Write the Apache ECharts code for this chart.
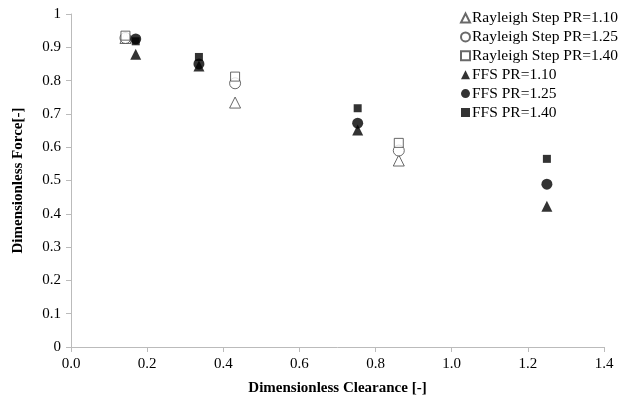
<!DOCTYPE html>
<html><head><meta charset="utf-8">
<script src="https://cdn.jsdelivr.net/npm/echarts@6/dist/echarts.min.js"></script>
<style>html,body{margin:0;padding:0;background:#fff}#c{width:623px;height:406px}</style>
</head><body><div id="c"></div>
<script>
const seriesNames = ["Rayleigh Step PR=1.10","Rayleigh Step PR=1.25","Rayleigh Step PR=1.40","FFS PR=1.10","FFS PR=1.25","FFS PR=1.40"];
const rayleighX = [0.143, 0.431, 0.861];
const rsPR110 = [0.928, 0.734, 0.560];
const rsPR125 = [0.928, 0.792, 0.590];
const rsPR140 = [0.935, 0.812, 0.613];
const ffsX = [0.17, 0.336, 0.753, 1.25];
const ffsPR110 = [0.879, 0.844, 0.652, 0.423];
const ffsPR125 = [0.925, 0.850, 0.672, 0.489];
const ffsPR140 = [0.918, 0.871, 0.717, 0.565];

const font = "'Liberation Serif','Times New Roman',serif";
function pts(xs, ys){ return xs.map((x,i)=>[x, ys[i]]); }
const hollow = {color:'#fff', borderColor:'#444', borderWidth:1};
const solid = {color:'#000'};
const chart = echarts.init(document.getElementById('c'));
chart.setOption({
  animation:false,
  grid:{left:71, right:19, top:14, bottom:59},
  legend:{
    orient:'vertical', left:455, top:5, itemWidth:9, itemHeight:9, itemGap:2.9,
    textStyle:{fontFamily:font, fontSize:15.5, color:'#000', padding:[0,0,0,-3]},
    data:seriesNames
  },
  xAxis:{
    type:'value', min:0, max:1.4, interval:0.2,
    name:'Dimensionless Clearance [-]', nameLocation:'middle', nameGap:34,
    nameTextStyle:{fontFamily:font, fontSize:15, fontWeight:'bold', color:'#000'},
    axisLine:{lineStyle:{color:'#bbb'}}, axisTick:{show:true, length:5, lineStyle:{color:'#bbb'}},
    splitLine:{show:false},
    axisLabel:{fontFamily:font, fontSize:15, color:'#000', margin:10, formatter:v=>v.toFixed(1)}
  },
  yAxis:{
    type:'value', min:0, max:1, interval:0.1,
    name:'Dimensionless Force[-]', nameLocation:'middle', nameGap:45,
    nameTextStyle:{fontFamily:font, fontSize:15, fontWeight:'bold', color:'#000'},
    axisLine:{show:true, lineStyle:{color:'#bbb'}}, axisTick:{show:true, length:5, lineStyle:{color:'#bbb'}},
    splitLine:{show:false},
    axisLabel:{fontFamily:font, fontSize:15, color:'#000', margin:10, formatter:v=>String(Math.round(v*10)/10)}
  },
  series:[
    {name:seriesNames[0], type:'scatter', symbol:'triangle', symbolSize:11, itemStyle:hollow, data:pts(rayleighX, rsPR110)},
    {name:seriesNames[1], type:'scatter', symbol:'circle', symbolSize:11, itemStyle:hollow, data:pts(rayleighX, rsPR125)},
    {name:seriesNames[2], type:'scatter', symbol:'rect', symbolSize:9, itemStyle:hollow, data:pts(rayleighX, rsPR140)},
    {name:seriesNames[3], type:'scatter', symbol:'triangle', symbolSize:11, itemStyle:solid, data:pts(ffsX, ffsPR110)},
    {name:seriesNames[4], type:'scatter', symbol:'circle', symbolSize:11, itemStyle:solid, data:pts(ffsX, ffsPR125)},
    {name:seriesNames[5], type:'scatter', symbol:'rect', symbolSize:8, itemStyle:solid, data:pts(ffsX, ffsPR140)}
  ]
});
</script></body></html>
